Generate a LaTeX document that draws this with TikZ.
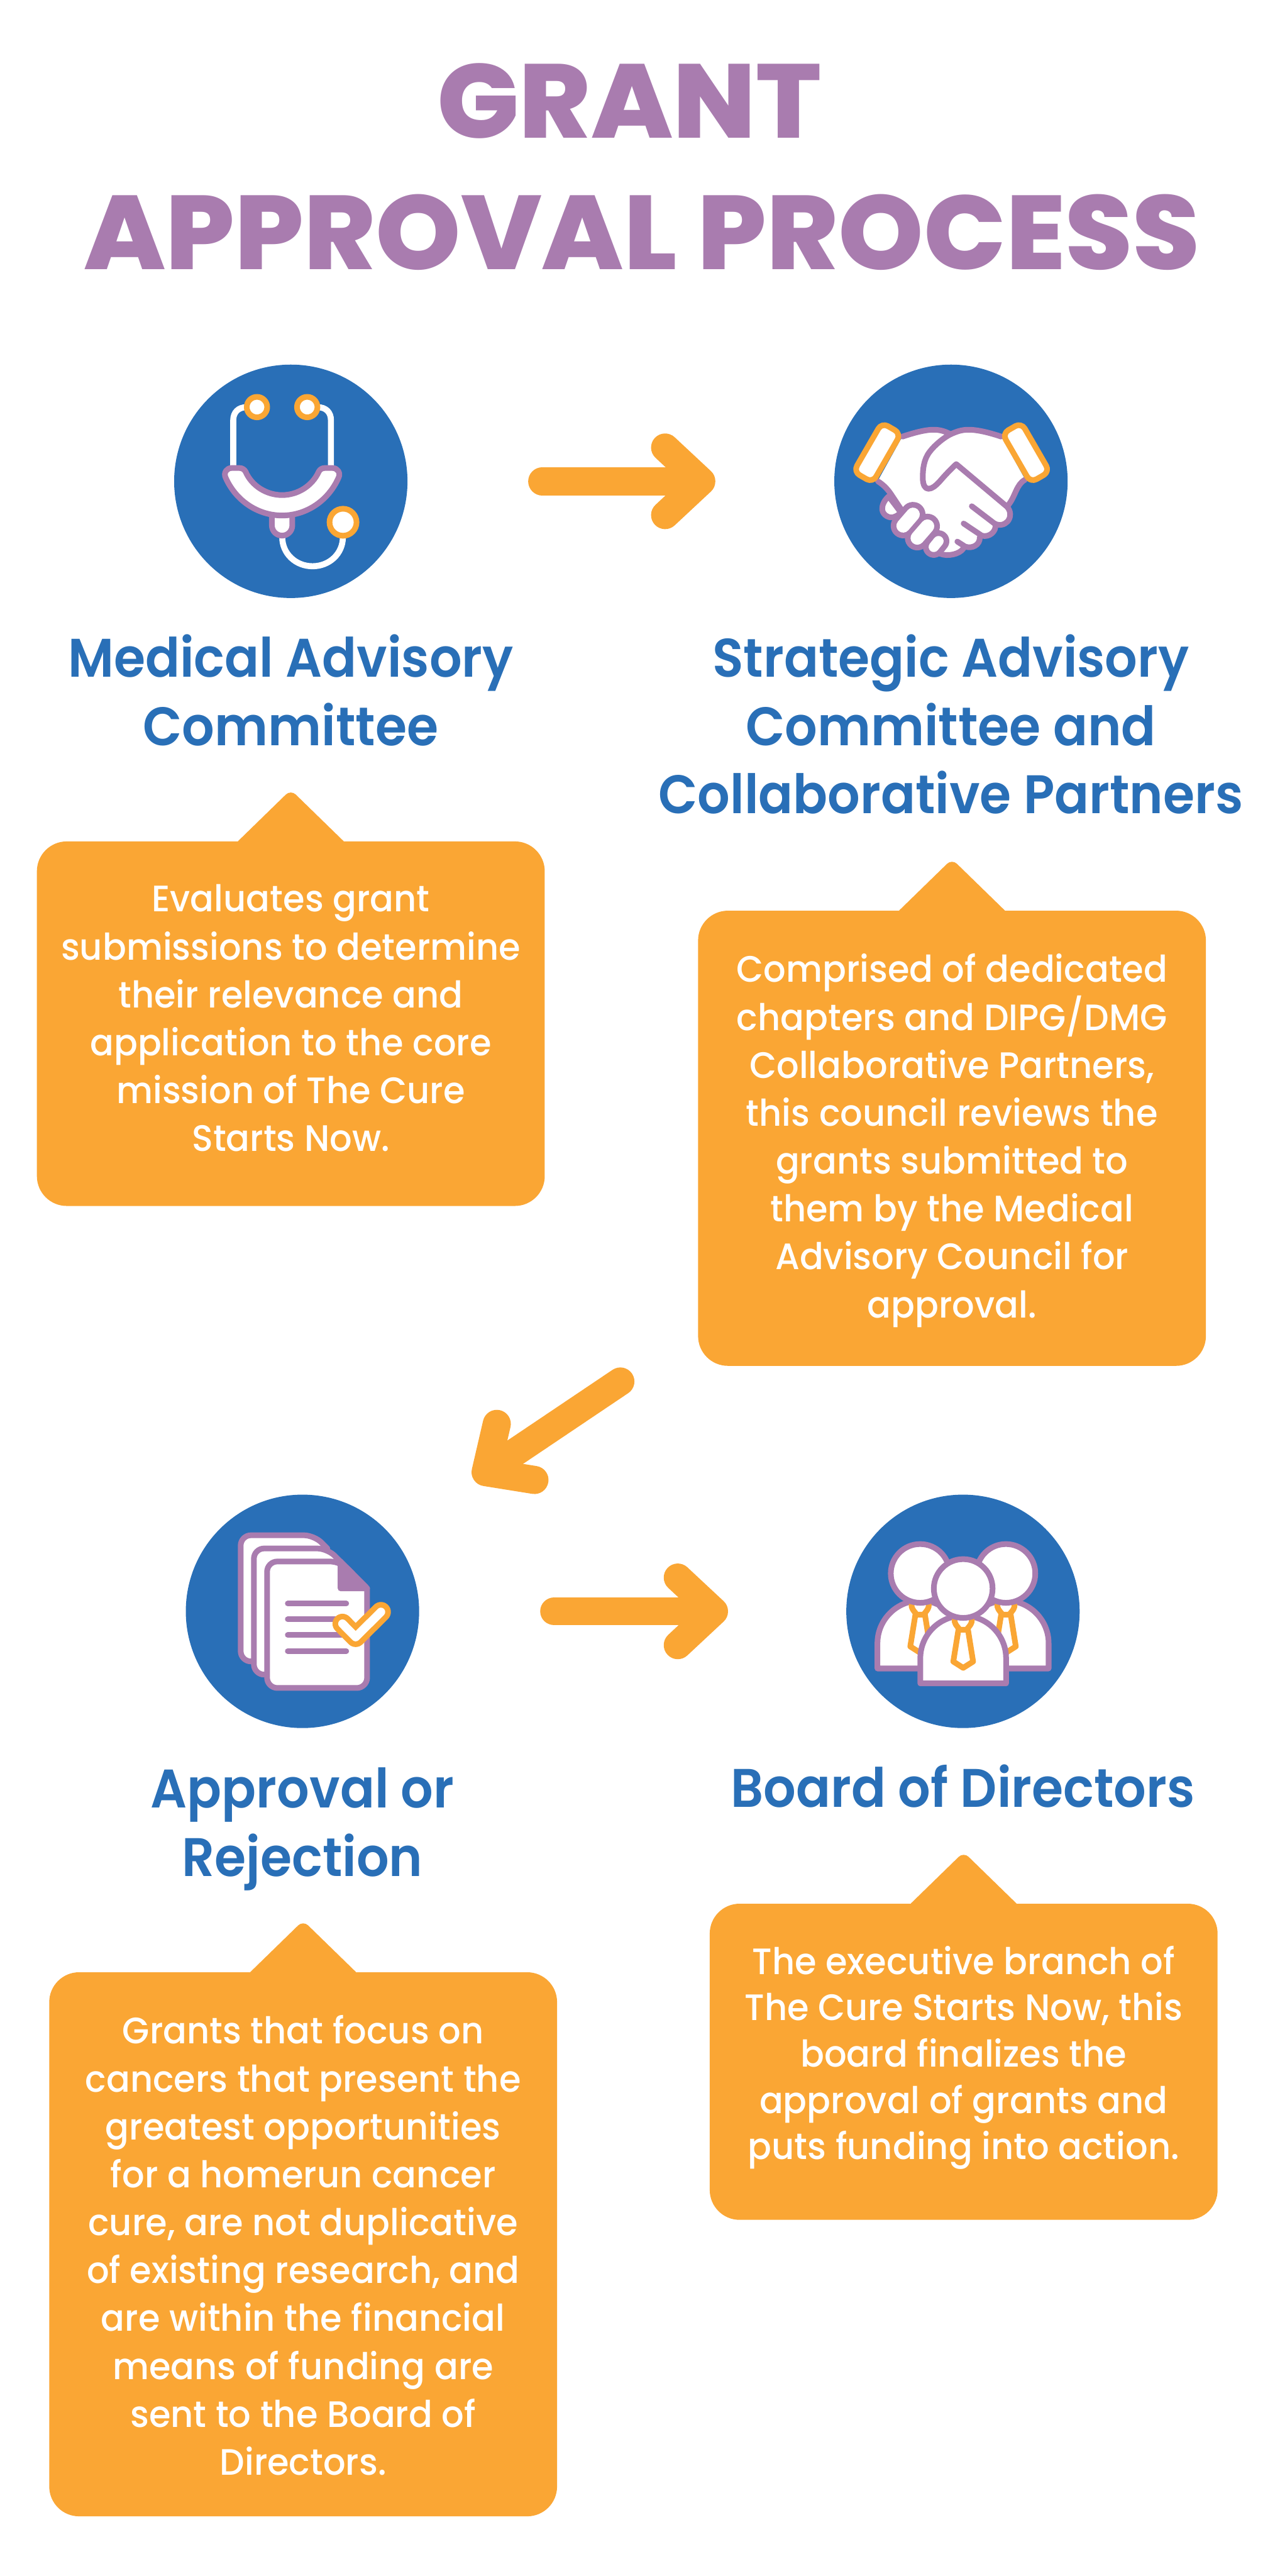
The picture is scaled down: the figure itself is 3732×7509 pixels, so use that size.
\documentclass[tikz,border=0pt]{standalone}
\usepackage{fontspec}
\usepackage{xcolor}
\usetikzlibrary{arrows.meta, positioning, calc}
\newfontfamily\titlefont[FakeStretch=1.034]{Poppins ExtraBold}
\newfontfamily\headfont[FakeStretch=0.94]{Poppins SemiBold}
\newfontfamily\bodyfont[FakeStretch=0.955]{Poppins Medium}
\definecolor{cureblue}{RGB}{41, 111, 183}
\definecolor{cureorange}{RGB}{250, 166, 52}
\definecolor{curepurple}{RGB}{169, 124, 175}

\begin{document}
\begin{tikzpicture}[
    x=0.01cm, y=-0.01cm,
    titletext/.style={anchor=base, inner sep=0, text=curepurple, font=\titlefont\fontsize{87}{87}\selectfont},
    headtext/.style={inner sep=0, align=center, text=cureblue, font=\headfont\fontsize{45}{56.6}\selectfont},
    bodytext/.style={inner sep=0, align=center, text=white, font=\bodyfont\fontsize{30.5}{39.7}\selectfont},
    iconcircle/.style={circle, fill=cureblue, minimum size=6.8cm, inner sep=0},
    callout/.style={fill=cureorange, rounded corners=0.87cm, minimum width=14.8cm},
    bigarrow/.style={line width=23.3pt, cureorange, line cap=round, -{Straight Barb[round, length=30pt, width=56pt]}},
    purpleline/.style={draw=curepurple, line width=4.7pt, line join=round, line cap=round},
    orangeline/.style={draw=cureorange, line width=4.7pt, line join=round, line cap=round},
    whiteline/.style={draw=white, line width=5pt}
]
    \useasboundingbox (0,0) rectangle (3732,7509);

    % Title
    \node[titletext] (grant) at (1835,402) {GRANT};
    \node[titletext] (process) at (1872,786) {APPROVAL PROCESS};

    % Icon circles
    \node[iconcircle] (medical) at (848,1403) {};
    \node[iconcircle] (strategic) at (2773,1403) {};
    \node[iconcircle] (approval) at (882,4697) {};
    \node[iconcircle] (board) at (2808,4697) {};

    % Headings
    \node[headtext, below=1.05cm of medical] (medicalhead) {Medical Advisory\\Committee};
    \node[headtext, below=1.05cm of strategic] (strategichead) {Strategic Advisory\\Committee and\\Collaborative Partners};
    \node[headtext, below=1.14cm of approval] (approvalhead) {Approval or\\Rejection};
    \node[headtext, below=1.05cm of board] (boardhead) {Board of Directors};

    % Callouts
    \node[callout, minimum height=10.62cm] (medicalbox) at (848,2984) {};
    \node[callout, minimum height=13.26cm] (strategicbox) at (2776,3318) {};
    \node[callout, minimum height=15.85cm] (approvalbox) at (884,6542) {};
    \node[callout, minimum height=9.21cm] (boardbox) at (2810,6010) {};
    \foreach \n in {medicalbox, strategicbox, approvalbox, boardbox}
        \fill[cureorange] ($(\n.north)+(-154,10)$) -- ($(\n.north)+(-154,0)$) [rounded corners=0.2cm] -- ($(\n.north)+(0,-150)$) [sharp corners] -- ($(\n.north)+(154,0)$) -- ($(\n.north)+(154,10)$) -- cycle;
    \node[bodytext, below=1.26cm of medicalbox.north] (medicaltext) {Evaluates grant\\submissions to determine\\their relevance and\\application to the core\\mission of The Cure\\Starts Now.};
    \node[bodytext, below=1.26cm of strategicbox.north] (strategictext) {Comprised of dedicated\\chapters and DIPG/DMG\\Collaborative Partners,\\this council reviews the\\grants submitted to\\them by the Medical\\Advisory Council for\\approval.};
    \node[bodytext, below=1.26cm of approvalbox.north] (approvaltext) {Grants that focus on\\cancers that present the\\greatest opportunities\\for a homerun cancer\\cure, are not duplicative\\of existing research, and\\are within the financial\\means of funding are\\sent to the Board of\\Directors.};
    \node[bodytext, below=1.23cm of boardbox.north, font=\bodyfont\fontsize{30.5}{38.4}\selectfont] (boardtext) {The executive branch of\\The Cure Starts Now, this\\board finalizes the\\approval of grants and\\puts funding into action.};

    % Arrows
    \coordinate (diagstart) at (1809,4027);
    \coordinate (diagend) at (1382,4314);
    \draw[bigarrow, shorten <=3.92cm, shorten >=3.46cm] (medical.east) -- (strategic.west);
    \draw[bigarrow] (diagstart) -- (diagend);
    \draw[bigarrow, shorten <=3.93cm, shorten >=3.44cm] (approval.east) -- (board.west);

    % Stethoscope
    \begin{scope}[shift={(480,1030)}, x=0.00458cm, y=-0.00458cm]
        \draw[whiteline] (437,715) -- (437,425) .. controls (437,375) and (470,343) .. (520,343);
        \draw[whiteline] (1059,715) -- (1059,425) .. controls (1059,375) and (1026,343) .. (976,343);
        \draw[whiteline] (749,1170) .. controls (749,1275) and (835,1355) .. (942,1355) .. controls (1049,1355) and (1135,1275) .. (1135,1170);
        \draw[orangeline, fill=white] (588,342) circle (65);
        \draw[orangeline, fill=white] (908,342) circle (65);
        \draw[orangeline, fill=white] (1136,1075) circle (86);
        \draw[purpleline, fill=white] (683,1020) -- (683,1095) .. controls (683,1131) and (712,1160) .. (748,1160) .. controls (784,1160) and (813,1131) .. (813,1095) -- (813,1020) -- cycle;
        \draw[purpleline, fill=white] (425,730) -- (478,730) .. controls (495,730) and (508,740) .. (515,752) .. controls (555,845) and (650,902) .. (748,902) .. controls (846,902) and (940,845) .. (982,752) .. controls (988,740) and (1002,730) .. (1018,730) -- (1070,730) .. controls (1100,730) and (1122,760) .. (1108,790) .. controls (1045,935) and (905,1032) .. (748,1032) .. controls (591,1032) and (451,935) .. (388,790) .. controls (374,760) and (396,730) .. (425,730) -- cycle;
    \end{scope}

    % Handshake
    \begin{scope}[shift={(2400,1030)}, x=0.00458cm, y=-0.00458cm]
        \fill[white] (505,530) -- (700,486) -- (812,515) -- (925,486) -- (1135,530) -- (1285,800) -- (1230,860) -- (1185,965) -- (1195,1020) -- (1170,1070) -- (1100,1095) -- (1100,1130) -- (1010,1170) -- (1000,1210) -- (900,1245) -- (890,1270) -- (805,1285) -- (745,1275) -- (500,1100) -- (430,900) -- (350,810) -- cycle;
        \draw[purpleline] (505,530) .. controls (580,505) and (650,486) .. (705,486) .. controls (750,486) and (785,500) .. (812,515);
        \draw[purpleline] (1135,530) .. controls (1060,505) and (985,486) .. (925,486) .. controls (880,486) and (845,500) .. (812,515) .. controls (770,535) and (710,585) .. (680,625) .. controls (640,675) and (635,740) .. (635,790) .. controls (635,840) and (650,862) .. (672,862) .. controls (695,862) and (720,840) .. (740,818) .. controls (780,772) and (815,735) .. (848,705) -- (1170,975) .. controls (1195,1000) and (1200,1040) .. (1175,1070) .. controls (1155,1092) and (1120,1100) .. (1090,1082) -- (947,973);
        \draw[purpleline] (1285,805) .. controls (1230,835) and (1225,910) .. (1180,965);
        \draw[purpleline] (1097,1090) .. controls (1105,1130) and (1060,1175) .. (1010,1160) -- (895,1083);
        \draw[purpleline] (998,1170) .. controls (1000,1220) and (950,1245) .. (905,1230) -- (855,1198);
        \draw[purpleline] (895,1240) .. controls (870,1280) and (790,1295) .. (745,1275);
        \draw[purpleline] (350,815) .. controls (390,840) and (415,870) .. (435,900) -- (495,990);
        \draw[purpleline, fill=white] (418,910) .. controls (385,940) and (375,970) .. (377,995) .. controls (380,1030) and (425,1055) .. (455,1040) .. controls (470,1035) and (485,1025) .. (495,1012) -- cycle;
        \draw[curepurple, line width=20.6pt, line cap=round] (573,1025) -- (510,1098);
        \draw[curepurple, line width=20.6pt, line cap=round] (665,1100) -- (600,1175);
        \draw[curepurple, line width=18pt, line cap=round] (735,1195) -- (705,1232);
        \draw[white, line width=11.2pt, line cap=round] (573,1025) -- (510,1098);
        \draw[white, line width=11.2pt, line cap=round] (665,1100) -- (600,1175);
        \draw[white, line width=8.5pt, line cap=round] (735,1195) -- (705,1232);
        \draw[orangeline, fill=white, rounded corners=0.2cm, rotate around={60:(345,632)}] (165,562) rectangle (525,702);
        \draw[orangeline, fill=white, rounded corners=0.2cm, rotate around={-60:(1292,632)}] (1112,562) rectangle (1472,702);
    \end{scope}

    % Documents
    \begin{scope}[shift={(520,4330)}, x=0.00458cm, y=-0.00458cm]
        \foreach \d in {0,84}
            \draw[purpleline, fill=white, shift={(\d,\d)}, rounded corners=0.3cm] (700,1120) -- (397,1120) -- (397,317) -- (865,317) [sharp corners] -- (949,401) -- (700,700) -- cycle;
        \draw[purpleline, fill=white, rounded corners=0.3cm] (1202,1000) -- (1202,1289) -- (565,1289) -- (565,484) -- (1033,484) [sharp corners] -- (1202,655) -- cycle;
        \draw[purpleline, fill=curepurple] (1033,484) -- (1202,655) -- (1033,655) -- cycle;
        \foreach \y in {752,852,952,1054}
            \draw[purpleline] (697,\y) -- (1069,\y);
        \draw[cureorange, line width=16.5pt, line cap=round, line join=round] (1045,880) -- (1129,965) -- (1290,805);
        \draw[white, line width=7.1pt, line cap=round, line join=round] (1045,880) -- (1129,965) -- (1290,805);
    \end{scope}

    % Board members
    \begin{scope}[shift={(2440,4330)}, x=0.00458cm, y=-0.00458cm]
        \foreach \d in {0,546} {
            \draw[purpleline, fill=white, shift={(\d,0)}] (259,1165) -- (259,1005) .. controls (259,855) and (381,733) .. (531,733) .. controls (681,733) and (803,855) .. (803,1005) -- (803,1165) -- cycle;
        }
        \foreach \d/\e in {0/0,546/0,274/96} {
            \ifnum\d=274
                \draw[purpleline, fill=white] (532,1260) -- (532,1100) .. controls (532,950) and (654,829) .. (805,829) .. controls (956,829) and (1078,950) .. (1078,1100) -- (1078,1260) -- cycle;
            \fi
            \draw[orangeline, shift={(\d,\e)}] (501,820) -- (468,1025) -- (531,1065) -- (594,1025) -- (561,820);
            \draw[orangeline, shift={(\d,\e)}] (476,760) .. controls (476,780) and (482,790) .. (510,822) -- (552,822) .. controls (580,790) and (586,780) .. (586,760);
            \draw[purpleline, fill=white, shift={(\d,\e)}] (531,560) circle (187);
        }
    \end{scope}
\end{tikzpicture}
\end{document}
